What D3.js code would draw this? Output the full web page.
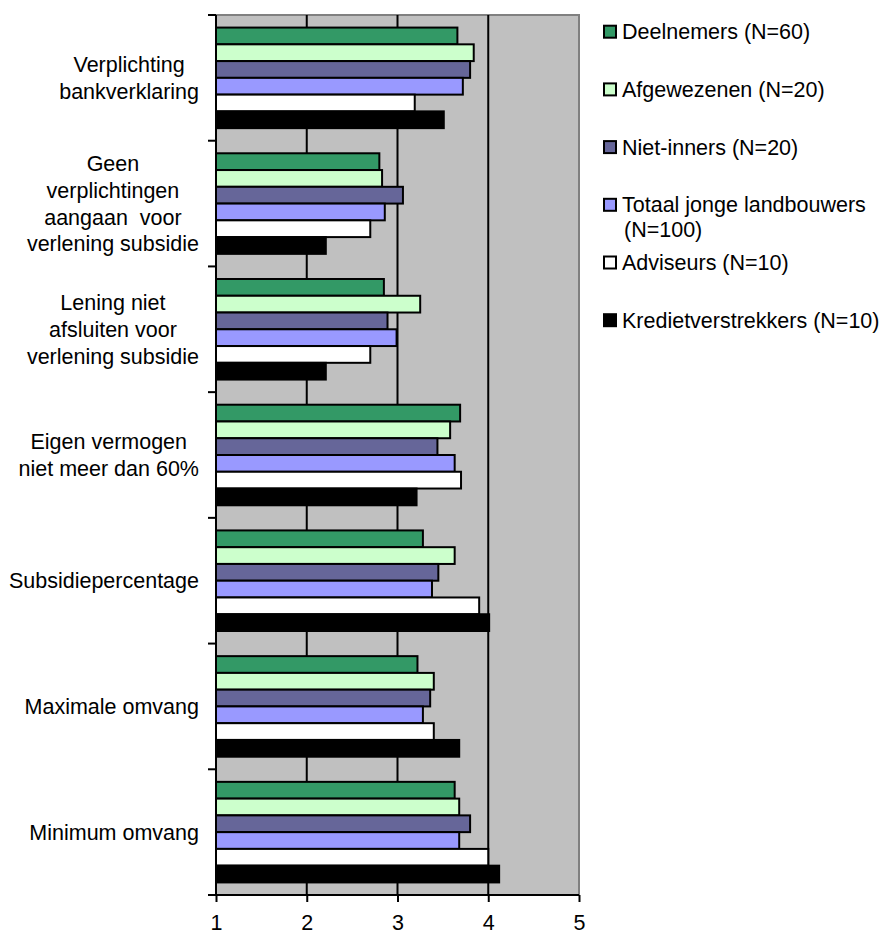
<!DOCTYPE html>
<html>
<head>
<meta charset="utf-8">
<script src="https://cdn.jsdelivr.net/npm/d3@7"></script>
<style>
  html, body { margin: 0; padding: 0; background: #fff; }
  svg text { font-family: "Liberation Sans", Arial, sans-serif; fill: #000; }
</style>
</head>
<body>
<svg id="chart" width="881" height="934"></svg>
<script>
const categories = [
  ["Verplichting", "bankverklaring"],
  ["Geen", "verplichtingen", "aangaan\u00a0 voor", "verlening subsidie"],
  ["Lening niet", "afsluiten voor", "verlening subsidie"],
  ["Eigen vermogen", "niet meer dan 60%"],
  ["Subsidiepercentage"],
  ["Maximale omvang"],
  ["Minimum omvang"]
];
const seriesNames = ["Deelnemers (N=60)", "Afgewezenen (N=20)", "Niet-inners (N=20)",
  "Totaal jonge landbouwers (N=100)", "Adviseurs (N=10)", "Kredietverstrekkers (N=10)"];
const legendLines = [["Deelnemers (N=60)"], ["Afgewezenen (N=20)"], ["Niet-inners (N=20)"],
  ["Totaal jonge landbouwers", "(N=100)"], ["Adviseurs (N=10)"], ["Kredietverstrekkers (N=10)"]];
const seriesColors = ["#339966", "#CCFFCC", "#666699", "#9999FF", "#FFFFFF", "#000000"];
const deelnemers    = [3.66, 2.80, 2.85, 3.69, 3.28, 3.22, 3.63];
const afgewezenen   = [3.84, 2.83, 3.25, 3.58, 3.63, 3.40, 3.68];
const nietInners    = [3.80, 3.06, 2.89, 3.44, 3.45, 3.36, 3.80];
const totaal        = [3.72, 2.86, 2.99, 3.63, 3.38, 3.28, 3.68];
const adviseurs     = [3.19, 2.70, 2.70, 3.70, 3.90, 3.40, 4.00];
const krediet       = [3.51, 2.21, 2.21, 3.21, 4.01, 3.68, 4.12];
const seriesValues = [deelnemers, afgewezenen, nietInners, totaal, adviseurs, krediet];
const xTicks = [1, 2, 3, 4, 5];

(function () {
const svg = d3.select("#chart");
const pL = 216, pR = 579, pT = 15, pB = 895;
const fs = 21.5;

const x = d3.scaleLinear().domain([1, 5]).range([pL, pR]);
const y = d3.scaleBand().domain(d3.range(categories.length)).range([pT, pB]).padding(0);
const ys = d3.scaleBand().domain(d3.range(seriesNames.length)).range([0, y.bandwidth()])
  .paddingInner(0).paddingOuter(0.75);

svg.append("rect").attr("x", pL).attr("y", pT).attr("width", pR - pL).attr("height", pB - pT)
  .attr("fill", "#C0C0C0");
svg.append("path").attr("d", `M${pL},${pT}H${pR}V${pB}`).attr("fill", "none")
  .attr("stroke", "#808080").attr("stroke-width", 2);

svg.append("g").selectAll("line").data(xTicks.filter(t => t > 1 && t < 5)).join("line")
  .attr("x1", d => x(d)).attr("x2", d => x(d)).attr("y1", pT).attr("y2", pB)
  .attr("stroke", "#000").attr("stroke-width", 2);

const g = svg.append("g");
categories.forEach((c, ci) => {
  seriesValues.forEach((vals, si) => {
    g.append("rect")
      .attr("x", x(1))
      .attr("y", y(ci) + ys(si))
      .attr("width", x(vals[ci]) - x(1))
      .attr("height", ys.bandwidth())
      .attr("fill", seriesColors[si])
      .attr("stroke", "#000").attr("stroke-width", 2);
  });
});

const xAxis = svg.append("g").attr("transform", `translate(0,${pB})`)
  .call(d3.axisBottom(x).tickValues(xTicks).tickFormat(d3.format("d")).tickSize(7).tickPadding(0));
xAxis.select(".domain").attr("stroke-width", 2).attr("d", `M${pL},0H${pR}`);
xAxis.selectAll(".tick line").attr("stroke-width", 2);
xAxis.selectAll(".tick text").attr("font-size", fs).attr("dy", null).attr("y", 35)
  .attr("font-family", '"Liberation Sans", Arial, sans-serif');

const yEdges = d3.range(categories.length + 1).map(i => pT + i * y.step());
const yAxisG = svg.append("g");
yAxisG.append("line").attr("x1", pL).attr("x2", pL).attr("y1", pT).attr("y2", pB)
  .attr("stroke", "#000").attr("stroke-width", 2);
yAxisG.selectAll(".yt").data(yEdges).join("line").attr("class", "yt")
  .attr("x1", pL - 8).attr("x2", pL).attr("y1", d => d).attr("y2", d => d)
  .attr("stroke", "#000").attr("stroke-width", 2);

const lineH = 26.9;
const labelRight = 199;
categories.forEach((lines, ci) => {
  const cy = y(ci) + y.bandwidth() / 2;
  const meas = svg.append("text").attr("font-size", fs);
  let maxW = 0;
  lines.forEach(l => { meas.text(l); maxW = Math.max(maxW, meas.node().getComputedTextLength()); });
  meas.remove();
  const cx = labelRight - maxW / 2;
  const t = svg.append("text").attr("font-size", fs).attr("text-anchor", "middle");
  lines.forEach((l, li) => {
    const ly = cy + (li - (lines.length - 1) / 2) * lineH;
    t.append("tspan").attr("x", cx).attr("y", ly).attr("dy", "0.35em").text(l);
  });
});

const legX = 604, legY0 = 31.7, legStep = 57.7, sq = 12;
legendLines.forEach((lines, i) => {
  const ly = legY0 + i * legStep;
  svg.append("rect").attr("x", legX).attr("y", ly - sq / 2).attr("width", sq).attr("height", sq)
    .attr("fill", seriesColors[i]).attr("stroke", "#000").attr("stroke-width", 2);
  const t = svg.append("text").attr("font-size", fs);
  lines.forEach((l, li) => {
    t.append("tspan").attr("x", legX + sq + 6 + (li > 0 ? 2 : 0)).attr("y", ly + li * 25).attr("dy", "0.35em").text(l);
  });
});
})();
</script>
</body>
</html>
